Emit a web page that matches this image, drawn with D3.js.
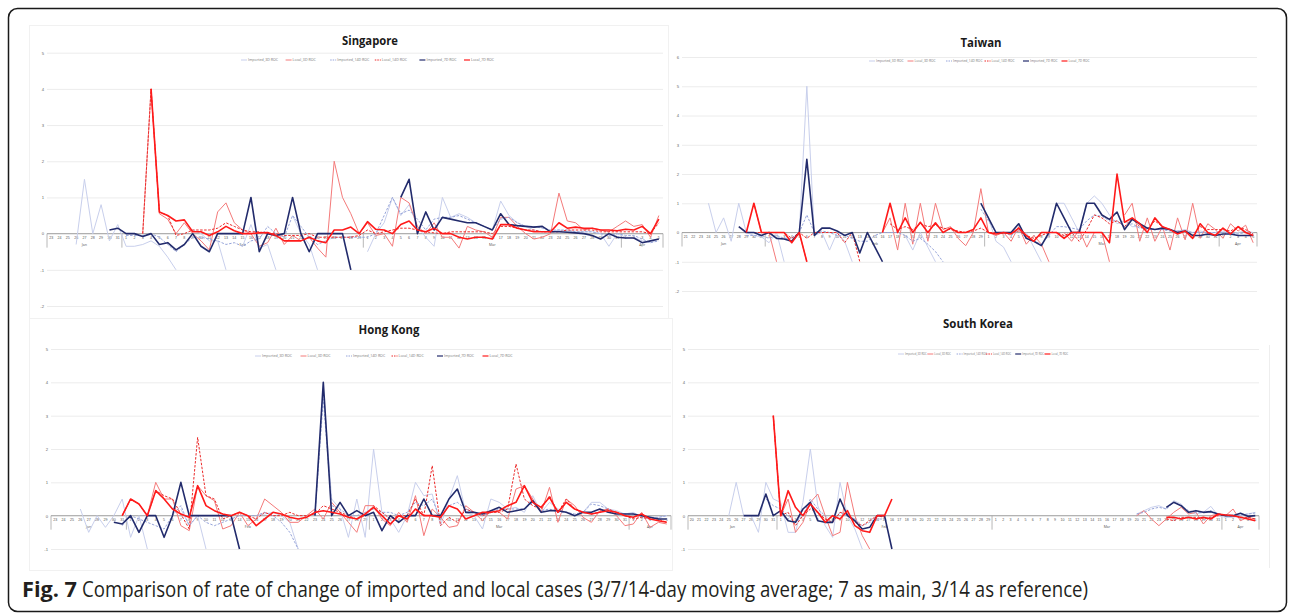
<!DOCTYPE html>
<html>
<head>
<meta charset="utf-8">
<script src="https://cdn.jsdelivr.net/npm/d3@7/dist/d3.min.js"></script>
<style>
	body { margin: 0; background: #fff; }
	svg { display: block; }
</style>
</head>
<body>
<script>
//Gap marker for days with no defined rate of change
const _ = null;

//Legend labels (Excel series order)
let seriesNames = ["Imported_3D ROC", "Local_3D ROC", "Imported_14D ROC", "Local_14D ROC", "Imported_7D ROC", "Local_7D ROC"];
let monthNames = ["Jan", "Feb", "Mar", "Apr"];

//Category axes (one entry per day)
let sgDates = d3.timeDay.range(new Date(2020, 0, 23), new Date(2020, 3, 6));
let twDates = d3.timeDay.range(new Date(2020, 0, 21), new Date(2020, 3, 6));
let hkDates = d3.timeDay.range(new Date(2020, 0, 23), new Date(2020, 3, 6));
let krDates = d3.timeDay.range(new Date(2020, 0, 20), new Date(2020, 3, 6));

//Singapore
let sgImp3 = [_,_,_,-0.3,1.5,0,0.8,-0.2,0.25,-0.35, -0.35,-0.3,-0.2,-0.35,-0.65,-1,_,0.1,0,-0.2, -0.2,-1,_,-0.35,0.25,-0.4,-0.3,-1,_,0.5, 0,-0.3,-1,_,_,_,_,_,-0.5,0, 0.3,1.0,0.5,0.8,0.2,-0.1,-0.35,1.0,0.45,0.55, 0.45,0.3,0.2,0.1,0.9,0.5,0.3,0.2,0.1,0.05, 0.05,0.1,0.05,0.05,0.05,0.05,0,-0.35,0,-0.1, -0.1,-0.2,-0.25,-0.15];
let sgLoc3 = [_,_,_,_,_,_,_,_,_,_, _,0,4,0.55,0.4,0,0.3,0,-0.2,-0.45, 0.6,0.85,0.3,0.1,0,-0.35,-0.25,0.15,-0.3,-0.05, -0.2,-0.1,-0.4,-0.65,2.0,1.0,0.55,0,0.3,-0.05, 0,-0.35,1.0,0.85,0.2,0,0.3,-0.1,-0.1,-0.4, 0.2,0.1,0.05,-0.1,0.45,0.45,0.2,0,-0.15,-0.1, 0,1.12,0.35,0.3,0.1,0.15,0.1,0.05,0.2,0.35, 0.2,0.25,-0.1,0.5];
let sgImp14 = [_,_,_,_,_,_,_,_,_,-0.05, -0.05,-0.05,0,-0.1,-0.3,-0.5,-0.3,-0.1,-0.1,-0.15, -0.2,-0.3,-0.25,-0.35,-0.2,-0.15,0.2,0,-0.1,0.5, 0.2,-0.1,-0.3,-0.2,-0.1,-0.1,-0.1,-0.1,-0.1,0, 0.5,1.0,0.55,0.65,0.4,0.1,0.4,0.45,0.45,0.5, 0.4,0.3,0.2,0.1,0.4,0.45,0.3,0.2,0.2,0.15, 0.1,0.1,0.1,0.05,0.05,0.05,0,-0.05,0,-0.05, -0.05,-0.15,-0.25,-0.2];
let sgLoc14 = [_,_,_,_,_,_,_,_,_,_, _,0,4,0.6,0.5,-0.05,0,0.1,0.1,0.1, 0.15,0.3,0.2,0.1,0.05,0.05,0,0,-0.05,-0.05, -0.05,0,-0.1,-0.1,-0.1,-0.1,-0.1,-0.05,0.1,0, 0.05,0.1,0.15,0.15,0.1,0.05,0.02,0,0.05,0.05, 0.05,0.05,0.05,0,0.2,0.2,0.15,0.1,0.1,0.05, 0.05,0.05,0.1,0.1,0.1,0.1,0.05,0.05,0.05,0.05, 0.05,0.05,0,0.3];
let sgImp7 = [_,_,_,_,_,_,_,0.1,0.15,0, 0,-0.08,0,-0.3,-0.25,-0.45,-0.3,0,-0.35,-0.5, 0,0,0,0,1.0,-0.5,0,-0.05,0,1.0, 0,-0.5,0,0,0,0,-1,_,_,_, _,_,1.0,1.5,0,0.6,0.1,0.45,0.4,0.35, 0.3,0.3,0.2,0.1,0.55,0.25,0.22,0.2,0.18,0.2, 0.05,0.05,0.04,0.02,0,-0.05,-0.15,0,-0.1,-0.12, -0.12,-0.25,-0.2,-0.15];
let sgLoc7 = [_,_,_,_,_,_,_,_,_,_, _,_,4,0.6,0.5,0.35,0.38,0.05,0.05,-0.05, 0.05,0.2,0.08,0,0,0.02,0.03,-0.05,-0.2,-0.2, -0.2,-0.1,-0.2,-0.25,0.1,0.1,0.18,0,0.33,0.12, 0.1,0,0.25,0.35,0.1,0.05,0.15,0,0,-0.1, -0.15,-0.1,-0.1,-0.15,0.25,0.25,0.15,0.1,0.05,0.05, 0.05,0.3,0.15,0.18,0.15,0.15,0.1,0.1,0.08,0.12, 0.1,0.2,0,0.4];

//Taiwan
let twImp3 = [_,_,_,1.0,0,0.5,-0.3,1.0,0,-0.1, -0.15,-0.35,0,-1,_,0,5,-0.1,0,-0.6, 0,-0.3,-1,_,_,_,_,_,_,-0.1, -0.6,0,-0.5,-1,_,_,_,_,_,1.0, 0.5,-0.3,-0.5,-1,_,0,-0.5,-1,_,1.0, 1.0,0.5,0,1.0,1.25,1.0,0.6,0.3,0.4,0.2, 0.2,0.15,0.1,0.1,0.1,0.05,0.1,0,0.05,0, 0,0.05,-0.05,0,0.05,0];
let twLoc3 = [_,_,_,_,_,_,_,_,_,1.0, 0,0,-1,_,-0.35,0,-1,_,_,_, _,_,_,_,_,_,0,0.5,-0.6,1.0, -0.4,1.0,-0.3,1.0,0.1,0.2,-0.2,-0.45,0,1.5, 0,-0.1,0,-0.3,0.2,-0.4,-0.1,-0.4,-1,_, 0,-0.3,0.1,-0.5,0,0,-1,_,0.6,1.0, -0.3,0.5,-0.3,0.2,-0.6,0.5,-0.25,1.0,-0.2,0.3, 0.1,-0.2,0.3,0.05,0.25,-0.35];
let twImp14 = [_,_,_,_,_,_,_,_,-0.1,-0.1, -0.1,-0.2,-0.1,-0.2,-0.2,0,0.6,0,0.05,0, -0.1,-0.1,-0.2,-0.3,-0.3,-0.1,0,0,0,-0.1, -0.3,-0.2,-0.4,-0.65,-1,_,_,_,_,0.8, 0.4,0,0,-0.1,0.1,-0.2,-0.3,-0.4,-0.1,0.2, 0.2,0.15,0.1,0.4,0.6,0.55,0.4,0.4,0.2,0.3, 0.15,0.15,0.1,0.1,0.05,0.05,0.05,0,0,0, 0,0,0,-0.05,0,-0.05];
let twLoc14 = [_,_,_,_,_,_,_,_,_,0, 0,0,0,0,-0.2,0,-0.2,0,0,0, 0,-0.35,0,-1,_,_,_,0.3,0.1,0.2, 0.1,0.3,0.2,0.25,0.15,0.1,0.05,0,0.05,0.15, 0,0,-0.05,0,0.05,-0.1,-0.2,-0.1,0,0, -0.1,0,-0.3,0.1,0.6,0.5,0.3,0.4,0.2,0.5, 0.2,0.1,0.4,0.2,0.1,0,0.05,-0.1,0.2,0.1, 0.1,0.1,0.05,0.2,0.1,-0.05];
let twImp7 = [_,_,_,_,_,_,_,0.2,0,0, -0.1,0,-0.2,-0.22,-0.3,0,2.5,-0.1,0.15,0.15, 0.05,-0.1,0,-0.7,0,-0.5,-1,_,_,_, _,_,_,_,_,_,_,_,_,1.0, 0.5,0,0,0,0.3,-0.2,-0.3,-0.45,0,1.0, 0.5,0,0,1.0,1.0,0.6,0.45,0.7,0.1,0.45, 0.3,0.15,0.1,0.15,0.1,0,0.05,-0.1,-0.1,-0.05, -0.1,-0.05,-0.05,-0.1,-0.1,-0.1];
let twLoc7 = [_,_,_,_,_,_,_,_,0,1.0, 0,0,0,0,-0.35,0,-1,_,_,_, _,_,_,_,_,_,0,1.0,0,0.5, 0,0.35,0,0.33,0,0.15,0,0,0.1,0.5, 0,-0.05,0,-0.05,0.15,-0.1,-0.3,0,0,0, -0.2,0,0,0,0,0,-0.35,2.0,0.35,0.5, 0.3,0,0.5,0.2,0.1,-0.05,0.05,-0.2,0.3,0, -0.1,0.15,-0.05,0.2,0,-0.1];

//Hong Kong
let hkImp3 = [_,_,_,0.2,-0.5,0,-0.35,0,0.5,-0.65, 0,-1,_,_,_,0.2,-0.3,0,-1,_, _,_,_,_,0,0.05,0.1,0,-0.2,-1, _,0,3.8,0.5,0.2,-0.65,0.5,-0.65,2.0,0.1, -0.1,-0.5,0,1.0,0.6,0.65,-0.3,0.5,1.2,0.1, 0,-0.4,0.5,0.4,0.2,0.25,0.1,0.6,0.1,0.4, 0.2,0.1,0,0.1,0.4,0.4,0.2,0.15,0.05,0.1, -0.05,-0.1,-0.05,0];
let hkLoc3 = [_,_,_,_,_,_,_,_,0,0.5, 0.35,0,1.0,0.5,0.5,-0.3,-0.45,0.9,0.6,0.45, -0.4,-0.3,0.1,-0.3,-0.1,0.5,0.3,0.1,-0.2,-0.2, 0,0.2,-0.1,0.4,0.1,-0.2,-0.5,0.3,0.3,-0.1, -0.3,0.1,-0.2,0.6,-0.6,0.2,-0.05,-0.35,-0.3,0.3, 0.1,-0.15,0.15,0.1,-0.1,0.8,0.9,0.5,0.1,0.85, -0.2,0.5,0.3,-0.05,-0.2,0.15,0.2,0,-0.3,-0.25, 0.1,-0.35,-0.2,-0.25];
let hkImp14 = [_,_,_,_,_,_,_,_,-0.3,0, -0.1,-0.2,-0.3,-0.4,0,0.3,-0.3,0,-0.2,-0.3, -0.2,-0.1,0,0,0,0.1,0,-0.2,-0.5,-1, _,0,3.5,0.3,0.2,0,0,0.1,0.2,0.1, 0.1,0,0.1,0.4,0.3,0.5,-0.1,0.3,0.4,0.2, 0.1,0,0.1,0.2,0.2,0.2,0.2,0.4,0.15,0.2, 0.1,0.1,0.05,0.1,0.35,0.3,0.2,0.1,0.05,0.05, 0,-0.05,-0.05,0];
let hkLoc14 = [_,_,_,_,_,_,_,_,0,0.5, 0.35,0,0.75,0.6,0.5,0.05,-0.4,2.35,0.6,0.5, -0.1,0,0.1,0,-0.1,0.1,0,0,0.1,0, 0,0.05,0.3,0.2,0.1,0,-0.1,0,0.3,0.1, -0.1,0,0,0.5,0,1.5,-0.3,-0.05,-0.2,0.2, 0.1,0,0.1,0.1,0.2,1.55,0.5,0.3,0.2,0.6, 0.1,0.5,0.2,0.1,0.05,0.1,0.2,0.1,0,-0.1, -0.05,-0.1,-0.1,-0.2];
let hkImp7 = [_,_,_,_,_,_,_,-0.2,-0.25,0, -0.5,0,0,-0.65,0,1.0,0,0,0,0, 0,0,-1,_,_,_,_,_,_,_, _,0,4.0,0,0.4,0,0.15,0,0.1,-0.45, 0,-0.2,0,0,0.5,0,0,0.5,0.8,0.1, 0.1,0.05,0.15,0.25,0.1,0.15,0.2,0.45,0.1,0.15, 0.15,0.1,0,0.1,0.1,0.2,0.1,0.05,0.05,0.05, 0,-0.05,-0.1,-0.1];
let hkLoc7 = [_,_,_,_,_,_,_,_,0,0.5, 0.35,0,0.75,0.5,0.2,0.05,-0.05,0.9,0.3,0.15, 0.05,0,0.1,0,-0.3,-0.1,0.1,0.05,-0.05,-0.1, -0.05,0.1,0.15,0.1,0.05,-0.05,-0.1,0.05,0.25,0, -0.25,0,-0.1,0.2,0,0,-0.05,0.3,0.2,-0.1, 0,0.1,0.1,0.15,0.3,0.4,0.9,0.4,0.25,0.55, 0.1,0.4,0.2,0.1,0.05,0.1,0.15,0.1,0,-0.05, 0.05,-0.1,-0.15,-0.2];

//South Korea
let krImp3 = [_,_,_,_,_,0,1.0,0,0,-0.5, 1.0,0.5,0.4,-0.5,-0.5,0.4,2.0,0.3,-0.3,-0.65, 1.0,0,-0.4,-1,_,_,_,_,_,_, _,_,_,_,_,_,_,_,_,_, _,_,_,_,_,_,_,_,_,_, _,_,_,_,_,_,_,_,_,_, 0.05,0.15,0.25,0.3,0.2,0.45,0.35,0.1,0.05,0.1, 0.28,0,-0.05,-0.05,0,0.05,0.1];
let krLoc3 = [_,_,_,_,_,_,_,_,_,_, _,3.0,0,0.5,-0.5,-0.2,0.4,0.65,0,-0.6, -0.5,1.0,0,-0.6,-1,_,_,_,_,_, _,_,_,_,_,_,_,_,_,_, _,_,_,_,_,_,_,_,_,_, _,_,_,_,_,_,_,_,_,_, 0,0.15,-0.1,-0.3,-0.1,0.1,0.25,0.05,0.1,-0.25, 0,0.05,0,0.2,-0.15,-0.05,-0.1];
let krImp14 = [_,_,_,_,_,_,_,_,_,_, 0.5,0.3,0.2,0,-0.2,0,0.5,0.2,0,-0.2, 0.1,0,-0.1,-0.3,-0.2,-0.1,-0.1,_,_,_, _,_,_,_,_,_,_,_,_,_, _,_,_,_,_,_,_,_,_,_, _,_,_,_,_,_,_,_,_,_, 0.05,0.1,0.2,0.25,0.2,0.4,0.3,0.15,0.1,0.1, 0.15,0.05,0,-0.02,0.02,0.05,0.08];
let krLoc14 = [_,_,_,_,_,_,_,_,_,_, _,3.0,0,0.1,-0.3,0,0.2,0.1,-0.1,-0.2, 0.1,0.05,-0.2,-0.3,-0.15,0,-0.05,_,_,_, _,_,_,_,_,_,_,_,_,_, _,_,_,_,_,_,_,_,_,_, _,_,_,_,_,_,_,_,_,_, _,_,_,_,-0.1,-0.15,-0.05,-0.05,-0.05,-0.1, -0.05,0,0.02,0,-0.05,-0.05,-0.1];
let krImp7 = [_,_,_,_,_,_,_,0,0,0, 0.65,0,0.15,-0.15,-0.2,0.2,0.4,-0.15,-0.2,-0.2, 0.5,0,-0.15,-0.4,-0.35,0,0,-1,_,_, _,_,_,_,_,_,_,_,_,_, _,_,_,_,_,_,_,_,_,_, _,_,_,_,_,_,_,_,_,_, _,_,_,_,0.25,0.4,0.3,0.1,0.15,0.1, 0.12,0.05,0,0,0.07,-0.02,0];
let krLoc7 = [_,_,_,_,_,_,_,_,_,_, _,3.0,0,0.75,0.25,0,0.35,0.1,-0.2,0, -0.1,0.15,-0.3,-0.45,-0.5,0,0,0.5,_,_, _,_,_,_,_,_,_,_,_,_, _,_,_,_,_,_,_,_,_,_, _,_,_,_,_,_,_,_,_,_, _,_,_,_,-0.05,-0.05,-0.1,-0.05,-0.1,-0.05, -0.1,0.05,0.02,0,-0.05,-0.1,-0.15];

//Execute script when window is loaded
window.onload = function(){
	let w = 1290, h = 613;

	let svg = d3.select("body")
		.append("svg")
		.attr("width", w)
		.attr("height", h)
		.style("font-family", "'Open Sans', 'DejaVu Sans', sans-serif");

	//Line styles, same order as seriesNames
	let styles = [
		{color: "#c8cfec", width: 1, dash: null},
		{color: "#f47a7a", width: 1, dash: null},
		{color: "#97a5da", width: 1, dash: "2.5,1.5"},
		{color: "#ec2b2b", width: 1, dash: "2.5,1.5"},
		{color: "#222b6c", width: 1.6, dash: null},
		{color: "#ff1a1a", width: 1.6, dash: null}
	];

	//Figure frame
	svg.append("rect")
		.attr("x", 8.5)
		.attr("y", 8.5)
		.attr("width", 1278)
		.attr("height", 603)
		.attr("rx", 9)
		.style("fill", "none")
		.style("stroke", "#1a1a1a")
		.style("stroke-width", 1.5);

	//Faint chart-area borders of the pasted Excel charts
	let borders = [[29, 25, 639, 293], [29, 318, 643, 252]];
	svg.selectAll(".chartBorder")
		.data(borders)
		.enter()
		.append("rect")
		.attr("class", "chartBorder")
		.attr("x", d => d[0] + 0.5)
		.attr("y", d => d[1] + 0.5)
		.attr("width", d => d[2])
		.attr("height", d => d[3])
		.style("fill", "none")
		.style("stroke", "#f1f1f1");

	//Right edge of the South Korea chart
	svg.append("line")
		.attr("x1", 1269.5)
		.attr("x2", 1269.5)
		.attr("y1", 345)
		.attr("y2", 568)
		.style("stroke", "#eeeeee");

	//Panel layouts
	let panels = [
		{title: "Singapore", tx: 370, ty: 45, tw: 56, left: 47, right: 663, yMin: -2, yMax: 5, top: 52.7, bottom: 306,
			legX: 241, legStep: 44.6, legY: 60, legFont: 3.6, dates: sgDates,
			series: [sgImp3, sgLoc3, sgImp14, sgLoc14, sgImp7, sgLoc7]},
		{title: "Taiwan", tx: 981, ty: 47, tw: 41, left: 682, right: 1257, yMin: -2, yMax: 6, top: 57, bottom: 291,
			legX: 869, legStep: 38.5, legY: 61, legFont: 3.3, dates: twDates,
			series: [twImp3, twLoc3, twImp14, twLoc14, twImp7, twLoc7]},
		{title: "Hong Kong", tx: 389, ty: 334, tw: 61, left: 51, right: 671, yMin: -1, yMax: 5, top: 349, bottom: 549,
			legX: 255, legStep: 45.5, legY: 356, legFont: 3.6, dates: hkDates,
			series: [hkImp3, hkLoc3, hkImp14, hkLoc14, hkImp7, hkLoc7]},
		{title: "South Korea", tx: 978, ty: 328, tw: 70, left: 688, right: 1259, yMin: -1, yMax: 5, top: 349, bottom: 549,
			legX: 898, legStep: 29.3, legY: 354, legFont: 2.6, dates: krDates,
			series: [krImp3, krLoc3, krImp14, krLoc14, krImp7, krLoc7]}
	];

	panels.forEach(function(p){
		let g = svg.append("g").attr("class", "panel");
		let dates = p.dates;

		//Category scale (one band per day) and value scale
		let x = d3.scaleBand()
			.domain(d3.range(dates.length))
			.range([p.left, p.right]);
		let y = d3.scaleLinear()
			.domain([p.yMin, p.yMax])
			.range([p.bottom, p.top]);
		let cx = i => x(i) + x.bandwidth() / 2;

		//Gridlines and value labels
		let yAxis = d3.axisLeft(y)
			.tickValues(d3.range(p.yMin, p.yMax + 1))
			.tickSize(-(p.right - p.left))
			.tickPadding(3)
			.tickFormat(d => d);
		g.append("g")
			.attr("class", "yAxis")
			.attr("transform", "translate(" + p.left + ",0)")
			.call(yAxis)
			.call(a => a.select(".domain").remove())
			.call(a => a.selectAll("line").style("stroke", "#ececec"))
			.call(a => a.selectAll("text").style("font-size", "4.2px").style("fill", "#666"));

		//Title
		g.append("text")
			.attr("x", p.tx)
			.attr("y", p.ty)
			.attr("text-anchor", "middle")
			.attr("textLength", p.tw)
			.attr("lengthAdjust", "spacingAndGlyphs")
			.style("font-size", "13px")
			.style("font-weight", "bold")
			.style("fill", "#1a1a1a")
			.text(p.title);

		//Legend
		let leg = g.selectAll(".legItem")
			.data(seriesNames)
			.enter()
			.append("g")
			.attr("class", "legItem")
			.attr("transform", (d, i) => "translate(" + (p.legX + i * p.legStep) + "," + p.legY + ")");
		leg.append("line")
			.attr("x1", 0)
			.attr("x2", 6)
			.style("stroke", (d, i) => styles[i].color)
			.style("stroke-width", (d, i) => Math.min(styles[i].width, 1.2))
			.style("stroke-dasharray", (d, i) => styles[i].dash ? "1.5,1" : null);
		leg.append("text")
			.attr("x", 7)
			.attr("dy", "0.35em")
			.style("font-size", p.legFont + "px")
			.style("fill", "#777")
			.text(d => d);

		//Category axis: day labels, axis line, month boxes
		let y0 = y(0);
		let xAxis = d3.axisBottom(x)
			.tickSize(0)
			.tickPadding(3)
			.tickFormat(i => dates[i].getDate());
		g.append("g")
			.attr("class", "xAxis")
			.attr("transform", "translate(0," + y0 + ")")
			.call(xAxis)
			.call(a => a.select(".domain").remove())
			.call(a => a.selectAll("text").style("font-size", "3.6px").style("fill", "#555"));

		g.append("line")
			.attr("x1", p.left)
			.attr("x2", p.right)
			.attr("y1", y0)
			.attr("y2", y0)
			.style("stroke", "#a6a6a6")
			.style("stroke-width", 1);

		//Month boundaries: first day of each month plus both ends
		let starts = d3.range(dates.length).filter(i => i === 0 || dates[i].getDate() === 1);
		let seps = starts.map(i => x(i)).concat([p.right]);
		g.selectAll(".sep")
			.data(seps)
			.enter()
			.append("line")
			.attr("class", "sep")
			.attr("x1", d => d)
			.attr("x2", d => d)
			.attr("y1", y0)
			.attr("y2", y0 + 14)
			.style("stroke", "#a6a6a6")
			.style("stroke-width", 0.8);

		g.selectAll(".month")
			.data(starts)
			.enter()
			.append("text")
			.attr("class", "month")
			.attr("x", (d, k) => (x(d) + seps[k + 1]) / 2)
			.attr("y", y0 + 12)
			.attr("text-anchor", "middle")
			.style("font-size", "3.6px")
			.style("fill", "#555")
			.text(d => monthNames[dates[d].getMonth()]);

		//Series lines, drawn in Excel order so 7-day lines sit on top
		let line = d3.line()
			.defined(d => d[1] !== null)
			.x(d => cx(d[0]))
			.y(d => y(d[1]));

		g.selectAll(".series")
			.data(p.series)
			.enter()
			.append("path")
			.attr("class", "series")
			.attr("d", vals => line(vals.map((v, i) => [i, v])))
			.style("fill", "none")
			.style("stroke", (d, i) => styles[i].color)
			.style("stroke-width", (d, i) => styles[i].width)
			.style("stroke-dasharray", (d, i) => styles[i].dash)
			.style("stroke-linejoin", "round");
	});

	//Caption: bold figure number, then the description
	svg.append("text")
		.attr("x", 22)
		.attr("y", 597)
		.attr("textLength", 55)
		.attr("lengthAdjust", "spacingAndGlyphs")
		.style("font-size", "21px")
		.style("font-weight", "bold")
		.style("fill", "#231f20")
		.text("Fig. 7");
	svg.append("text")
		.attr("x", 82)
		.attr("y", 597)
		.attr("textLength", 1006)
		.attr("lengthAdjust", "spacingAndGlyphs")
		.style("font-size", "21px")
		.style("fill", "#231f20")
		.text("Comparison of rate of change of imported and local cases (3/7/14-day moving average; 7 as main, 3/14 as reference)");
};
</script>
</body>
</html>
